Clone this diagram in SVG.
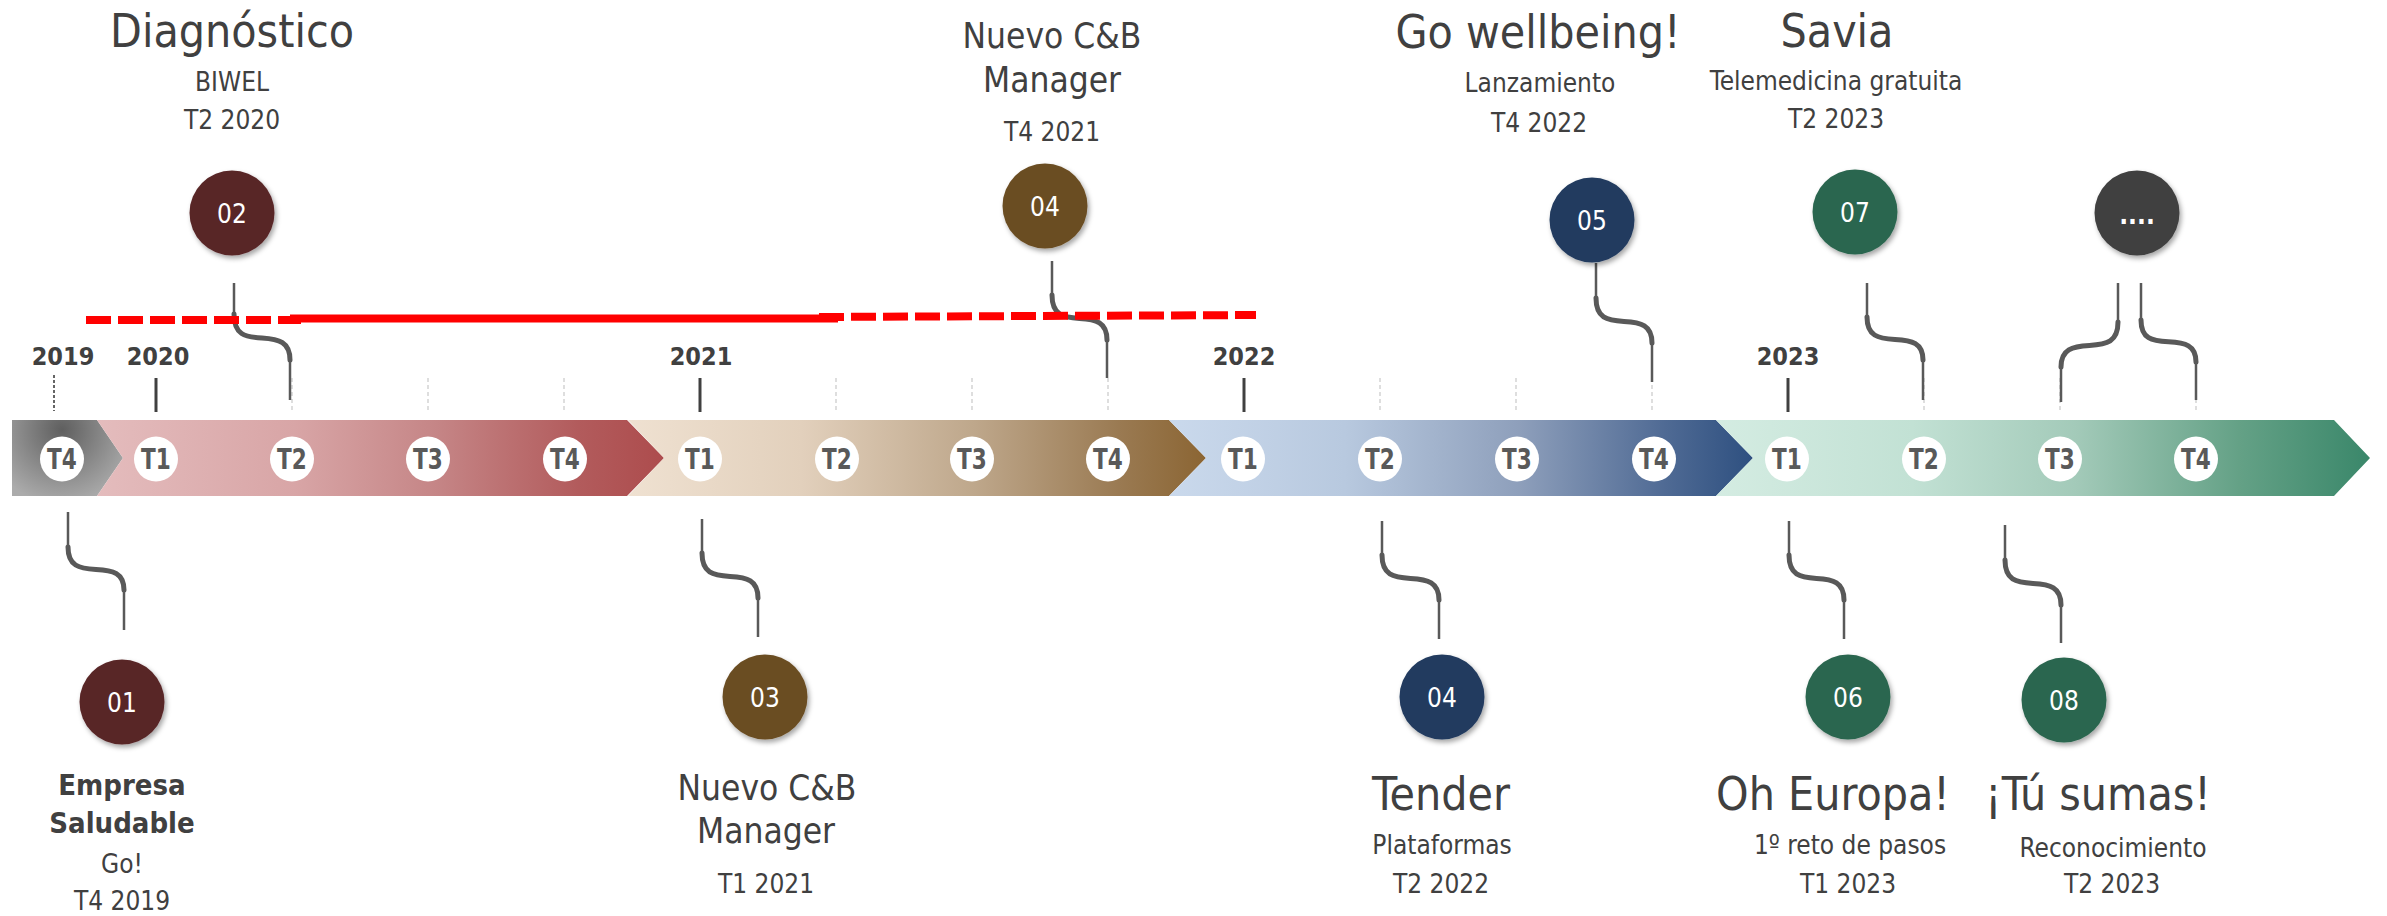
<svg xmlns="http://www.w3.org/2000/svg" width="2387" height="916" viewBox="0 0 2387 916">
<style>
text{font-family:"DejaVu Sans Condensed","DejaVu Sans",sans-serif;font-stretch:condensed;fill:#404040;text-anchor:middle}
.yr{font-weight:bold;font-size:25px}
.tq{font-weight:bold;font-size:24px;fill:#595959}
.num{font-size:26px;fill:#ffffff}
.h1{font-size:46px}
.h2{font-size:35px}
.hb{font-size:29px;font-weight:bold}
.sub{font-size:26px}
.thin{fill:none;stroke:#595959;stroke-width:2.5}
.thick{fill:none;stroke:#595959;stroke-width:5;stroke-linecap:round}
.ytick{stroke:#404040;stroke-width:3}
.qtick{stroke:#d4d4d4;stroke-width:1.5;stroke-dasharray:4 3}
.red{fill:none;stroke:#ff0000;stroke-width:8}
.dash{stroke-dasharray:25 7}
.tc{fill:#ffffff}
</style>
<defs>
<filter id="sh" x="-30%" y="-30%" width="160%" height="160%">
<feDropShadow dx="2" dy="3" stdDeviation="2.5" flood-color="#000" flood-opacity="0.35"/>
</filter>
<radialGradient id="gGray" gradientUnits="userSpaceOnUse" cx="62" cy="430" r="75">
<stop offset="0" stop-color="#5f5f5f"/><stop offset="1" stop-color="#ababab"/>
</radialGradient>
<linearGradient id="gRed" gradientUnits="userSpaceOnUse" x1="97" y1="0" x2="664" y2="0">
<stop offset="0" stop-color="#e4bcbd"/><stop offset="0.35" stop-color="#d8a5a6"/><stop offset="0.6" stop-color="#c58586"/><stop offset="0.85" stop-color="#b25b5c"/><stop offset="1" stop-color="#ad4c4d"/>
</linearGradient>
<linearGradient id="gBeige" gradientUnits="userSpaceOnUse" x1="628" y1="0" x2="1206" y2="0">
<stop offset="0" stop-color="#efe1d1"/><stop offset="0.3" stop-color="#e2d0bc"/><stop offset="0.6" stop-color="#bea78b"/><stop offset="0.85" stop-color="#9a7a52"/><stop offset="1" stop-color="#8b6533"/>
</linearGradient>
<linearGradient id="gBlue" gradientUnits="userSpaceOnUse" x1="1169" y1="0" x2="1753" y2="0">
<stop offset="0" stop-color="#cad9ec"/><stop offset="0.3" stop-color="#b8c9df"/><stop offset="0.6" stop-color="#8e9fbb"/><stop offset="0.85" stop-color="#4f6a94"/><stop offset="1" stop-color="#2e5080"/>
</linearGradient>
<linearGradient id="gGreen" gradientUnits="userSpaceOnUse" x1="1716" y1="0" x2="2370" y2="0">
<stop offset="0" stop-color="#d4ece2"/><stop offset="0.3" stop-color="#c2e1d4"/><stop offset="0.55" stop-color="#a3cab9"/><stop offset="0.8" stop-color="#64a186"/><stop offset="1" stop-color="#3a876a"/>
</linearGradient>
</defs>
<rect x="0" y="0" width="2387" height="916" fill="#ffffff"/>

<g id="band">
<polygon points="12,420 97,420 123,458 97,496 12,496" fill="url(#gGray)"/>
<polygon points="97,420 627,420 664,458 627,496 97,496 123,458" fill="url(#gRed)"/>
<polygon points="628,420 1169,420 1206,458 1169,496 628,496 664,458" fill="url(#gBeige)"/>
<polygon points="1169,420 1716,420 1753,458 1716,496 1169,496 1206,458" fill="url(#gBlue)"/>
<polygon points="1716,420 2334,420 2370,458 2334,496 1716,496 1753,458" fill="url(#gGreen)"/>
</g>

<g id="ticks">
<line x1="54" y1="375" x2="54" y2="411" stroke="#333" stroke-width="1.5" stroke-dasharray="3 2"/>
<line class="ytick" x1="156" y1="378" x2="156" y2="412"/>
<line class="ytick" x1="700" y1="378" x2="700" y2="412"/>
<line class="ytick" x1="1244" y1="378" x2="1244" y2="412"/>
<line class="ytick" x1="1788" y1="378" x2="1788" y2="412"/>
<line class="qtick" x1="292" y1="378" x2="292" y2="412"/>
<line class="qtick" x1="428" y1="378" x2="428" y2="412"/>
<line class="qtick" x1="564" y1="378" x2="564" y2="412"/>
<line class="qtick" x1="836" y1="378" x2="836" y2="412"/>
<line class="qtick" x1="972" y1="378" x2="972" y2="412"/>
<line class="qtick" x1="1108" y1="378" x2="1108" y2="412"/>
<line class="qtick" x1="1380" y1="378" x2="1380" y2="412"/>
<line class="qtick" x1="1516" y1="378" x2="1516" y2="412"/>
<line class="qtick" x1="1652" y1="378" x2="1652" y2="412"/>
<line class="qtick" x1="1924" y1="378" x2="1924" y2="412"/>
<line class="qtick" x1="2060" y1="378" x2="2060" y2="412"/>
<line class="qtick" x1="2196" y1="378" x2="2196" y2="412"/>
</g>

<g id="years">
<text class="yr" x="63" y="365">2019</text>
<text class="yr" x="158" y="365">2020</text>
<text class="yr" x="701" y="365">2021</text>
<text class="yr" x="1244" y="365">2022</text>
<text class="yr" x="1788" y="365">2023</text>
</g>

<g id="quarters">
<ellipse class="tc" cx="62" cy="459" rx="22" ry="22.5"/><text class="tq" transform="translate(62,469) scale(1,1.15)">T4</text>
<ellipse class="tc" cx="156" cy="459" rx="22" ry="22.5"/><text class="tq" transform="translate(156,469) scale(1,1.15)">T1</text>
<ellipse class="tc" cx="292" cy="459" rx="22" ry="22.5"/><text class="tq" transform="translate(292,469) scale(1,1.15)">T2</text>
<ellipse class="tc" cx="428" cy="459" rx="22" ry="22.5"/><text class="tq" transform="translate(428,469) scale(1,1.15)">T3</text>
<ellipse class="tc" cx="565" cy="459" rx="22" ry="22.5"/><text class="tq" transform="translate(565,469) scale(1,1.15)">T4</text>
<ellipse class="tc" cx="700" cy="459" rx="22" ry="22.5"/><text class="tq" transform="translate(700,469) scale(1,1.15)">T1</text>
<ellipse class="tc" cx="837" cy="459" rx="22" ry="22.5"/><text class="tq" transform="translate(837,469) scale(1,1.15)">T2</text>
<ellipse class="tc" cx="972" cy="459" rx="22" ry="22.5"/><text class="tq" transform="translate(972,469) scale(1,1.15)">T3</text>
<ellipse class="tc" cx="1108" cy="459" rx="22" ry="22.5"/><text class="tq" transform="translate(1108,469) scale(1,1.15)">T4</text>
<ellipse class="tc" cx="1243" cy="459" rx="22" ry="22.5"/><text class="tq" transform="translate(1243,469) scale(1,1.15)">T1</text>
<ellipse class="tc" cx="1380" cy="459" rx="22" ry="22.5"/><text class="tq" transform="translate(1380,469) scale(1,1.15)">T2</text>
<ellipse class="tc" cx="1517" cy="459" rx="22" ry="22.5"/><text class="tq" transform="translate(1517,469) scale(1,1.15)">T3</text>
<ellipse class="tc" cx="1654" cy="459" rx="22" ry="22.5"/><text class="tq" transform="translate(1654,469) scale(1,1.15)">T4</text>
<ellipse class="tc" cx="1787" cy="459" rx="22" ry="22.5"/><text class="tq" transform="translate(1787,469) scale(1,1.15)">T1</text>
<ellipse class="tc" cx="1924" cy="459" rx="22" ry="22.5"/><text class="tq" transform="translate(1924,469) scale(1,1.15)">T2</text>
<ellipse class="tc" cx="2060" cy="459" rx="22" ry="22.5"/><text class="tq" transform="translate(2060,469) scale(1,1.15)">T3</text>
<ellipse class="tc" cx="2196" cy="459" rx="22" ry="22.5"/><text class="tq" transform="translate(2196,469) scale(1,1.15)">T4</text>
</g>

<g id="connectors">
<path class="thin" d="M234,283 V314 M290,360 V400"/>
<path class="thick" d="M234,314 C234,335 245,337 262,338 C279,339 290,342 290,360"/>
<path class="thin" d="M1052,261 V295 M1107,340 V378"/>
<path class="thick" d="M1052,295 C1052,315 1063,317.5 1079.5,318.4 C1096,319.3 1107,322 1107,340"/>
<path class="thin" d="M1596,263 V298 M1652,343 V382"/>
<path class="thick" d="M1596,298 C1596,318 1607,320.5 1624,321.4 C1641,322.3 1652,325 1652,343"/>
<path class="thin" d="M1867,283 V317 M1923,360 V400"/>
<path class="thick" d="M1867,317 C1867,336 1878,338.5 1895,339.4 C1912,340.2 1923,343 1923,360"/>
<path class="thin" d="M2118,283 V322 M2061,367 V402"/>
<path class="thick" d="M2118,322 C2118,342 2106.6,344.5 2089.5,345.4 C2072.4,346.3 2061,349 2061,367"/>
<path class="thin" d="M2141,283 V320 M2196,362 V400"/>
<path class="thick" d="M2141,320 C2141,339 2152,341 2168.5,341.8 C2185,342.7 2196,345 2196,362"/>
<path class="thin" d="M68,512 V547 M124,590 V630"/>
<path class="thick" d="M68,547 C68,566 79,568.5 96,569.4 C113,570 124,573 124,590"/>
<path class="thin" d="M702,519 V553 M758,598 V637"/>
<path class="thick" d="M702,553 C702,573 713,575.5 730,576.4 C747,577.3 758,580 758,598"/>
<path class="thin" d="M1382,521 V555 M1439,600 V639"/>
<path class="thick" d="M1382,555 C1382,575 1393.4,577.5 1410.5,578.4 C1427.6,579.3 1439,582 1439,600"/>
<path class="thin" d="M1789,521 V555 M1844,600 V639"/>
<path class="thick" d="M1789,555 C1789,575 1800,577.5 1816.5,578.4 C1833,579.3 1844,582 1844,600"/>
<path class="thin" d="M2005,525 V560 M2061,605 V643"/>
<path class="thick" d="M2005,560 C2005,580 2016,582.5 2033,583.4 C2050,584.3 2061,587 2061,605"/>
</g>

<g id="redlines">
<path class="red dash" d="M86,320 H301"/>
<path class="red" d="M290,318.5 H838"/>
<path class="red dash" d="M819,317 L1256,315"/>
</g>

<g id="n01">
<circle cx="122" cy="702" r="42.5" fill="#582527" filter="url(#sh)"/>
<text class="num" x="122" y="711.5">01</text>
<text class="hb" x="122" y="795">Empresa</text>
<text class="hb" x="122" y="833">Saludable</text>
<text class="sub" x="122" y="873">Go!</text>
<text class="sub" x="122" y="910">T4 2019</text>
</g>

<g id="n02">
<circle cx="232" cy="213" r="42.5" fill="#582527" filter="url(#sh)"/>
<text class="num" x="232" y="222.5">02</text>
<text class="h1" x="232" y="47">Diagnóstico</text>
<text class="sub" x="232" y="91">BIWEL</text>
<text class="sub" x="232" y="129">T2 2020</text>
</g>

<g id="n03">
<circle cx="765" cy="697" r="42.5" fill="#6b4d24" filter="url(#sh)"/>
<text class="num" x="765" y="706.5">03</text>
<text class="h2" x="767" y="800">Nuevo C&amp;B</text>
<text class="h2" x="766" y="843">Manager</text>
<text class="sub" x="766" y="893">T1 2021</text>
</g>

<g id="n04top">
<circle cx="1045" cy="206" r="42.5" fill="#6b4d24" filter="url(#sh)"/>
<text class="num" x="1045" y="215.5">04</text>
<text class="h2" x="1052" y="48">Nuevo C&amp;B</text>
<text class="h2" x="1052" y="92">Manager</text>
<text class="sub" x="1052" y="141">T4 2021</text>
</g>

<g id="n04bottom">
<circle cx="1442" cy="697" r="42.5" fill="#213a5e" filter="url(#sh)"/>
<text class="num" x="1442" y="706.5">04</text>
<text class="h1" x="1441" y="810">Tender</text>
<text class="sub" x="1442" y="854">Plataformas</text>
<text class="sub" x="1441" y="893">T2 2022</text>
</g>

<g id="n05">
<circle cx="1592" cy="220" r="42.5" fill="#213a5e" filter="url(#sh)"/>
<text class="num" x="1592" y="229.5">05</text>
<text class="h1" x="1538" y="48">Go wellbeing!</text>
<text class="sub" x="1540" y="92">Lanzamiento</text>
<text class="sub" x="1539" y="132">T4 2022</text>
</g>

<g id="n06">
<circle cx="1848" cy="697" r="42.5" fill="#2c664f" filter="url(#sh)"/>
<text class="num" x="1848" y="706.5">06</text>
<text class="h1" x="1833" y="810">Oh Europa!</text>
<text class="sub" x="1850" y="854">1º reto de pasos</text>
<text class="sub" x="1848" y="893">T1 2023</text>
</g>

<g id="n07">
<circle cx="1855" cy="212" r="42.5" fill="#2c664f" filter="url(#sh)"/>
<text class="num" x="1855" y="221.5">07</text>
<text class="h1" x="1837" y="47">Savia</text>
<text class="sub" x="1836" y="90">Telemedicina gratuita</text>
<text class="sub" x="1836" y="128">T2 2023</text>
</g>

<g id="n08">
<circle cx="2064" cy="700" r="42.5" fill="#2c664f" filter="url(#sh)"/>
<text class="num" x="2064" y="709.5">08</text>
<text class="h1" x="2098" y="810">¡Tú sumas!</text>
<text class="sub" x="2113" y="857">Reconocimiento</text>
<text class="sub" x="2112" y="893">T2 2023</text>
</g>

<g id="nmore">
<circle cx="2137" cy="213" r="42.5" fill="#404040" filter="url(#sh)"/>
<text class="num" x="2137" y="224" font-weight="bold">....</text>
</g>
</svg>
